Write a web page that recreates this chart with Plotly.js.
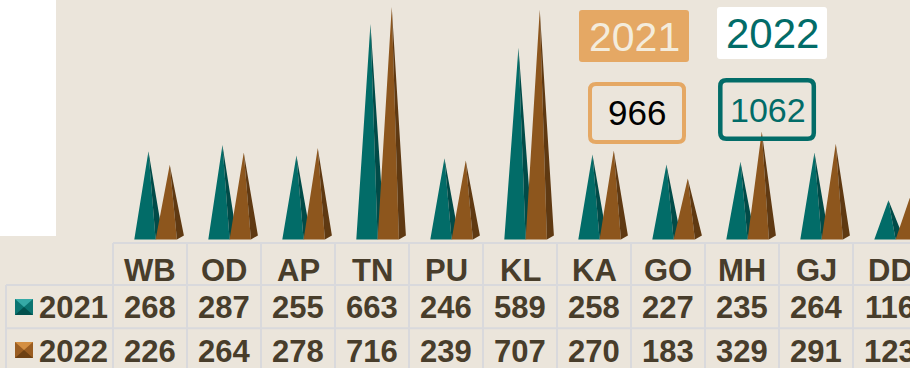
<!DOCTYPE html>
<html>
<head>
<meta charset="utf-8">
<script src="https://cdn.plot.ly/plotly-3.0.1.min.js"></script>
<style>
  html, body { margin: 0; padding: 0; background: #ebe5db; overflow: hidden; }
  #chart { width: 910px; height: 368px; }
</style>
</head>
<body>
<div id="chart"></div>
<script>
// ---- data ----
const states = ['WB', 'OD', 'AP', 'TN', 'PU', 'KL', 'KA', 'GO', 'MH', 'GJ', 'DD'];
const values2021 = [268, 287, 255, 663, 246, 589, 258, 227, 235, 264, 116];
const values2022 = [226, 264, 278, 716, 239, 707, 270, 183, 329, 291, 123];
const seriesNames = ['2021', '2022'];
const boxValues = [966, 1062];

// ---- geometry (pixels) ----
const W = 910, H = 368;
const COL = 74;        // column width
const FIRST = 150;     // centre of the first column
const BASE = 239.5;    // pixel row of value 0
const K = 0.322;       // pixels per unit
const FW = 21.3;       // pyramid front width
const DX = 7, DY = 4;  // depth offset of the pyramid side
const TEAL = '#026c68', TEAL_SIDE = '#014b48';
const BROWN = '#8d561d', BROWN_SIDE = '#5f3912';
const TEXT = '#483d2b';
const GRID = '#d9d9dc';
const FONT = 'Liberation Sans, Arial, sans-serif';

const fx = p => p / W;          // pixel -> paper x
const fy = p => 1 - p / H;      // pixel -> paper y

// pyramid faces built from the values through the axis units
function pyramids(values, offsetPx) {
  const front = { x: [], y: [] }, side = { x: [], y: [] };
  values.forEach((v, i) => {
    const x0 = i + offsetPx / COL;
    const x1 = x0 + FW / COL;
    const ax = (x0 + x1) / 2 + DX / 2 / COL;
    const ay = v + DY / 2 / K;
    front.x.push(x0, x1, ax, null); front.y.push(0, 0, ay, null);
    side.x.push(x1, x1 + DX / COL, ax, null); side.y.push(0, DY / K, ay, null);
  });
  return { front, side };
}

function faceTrace(pts, color, name) {
  return {
    type: 'scatter', mode: 'lines', x: pts.x, y: pts.y, name: name,
    fill: 'toself', fillcolor: color, line: { width: 0, color: color },
    hoverinfo: 'skip', showlegend: false
  };
}

const p21 = pyramids(values2021, -15.7);
const p22 = pyramids(values2022, -15.7 + FW);
const traces = [
  faceTrace(p21.front, TEAL, seriesNames[0]),
  faceTrace(p21.side, TEAL_SIDE, seriesNames[0]),
  faceTrace(p22.front, BROWN, seriesNames[1]),
  faceTrace(p22.side, BROWN_SIDE, seriesNames[1])
];

function roundRect(x0, y0, x1, y1, r) {
  const X0 = fx(x0), X1 = fx(x1), Y0 = fy(y0), Y1 = fy(y1);
  const rx = r / W, ry = r / H;
  return `M ${X0 + rx} ${Y0} L ${X1 - rx} ${Y0} Q ${X1} ${Y0} ${X1} ${Y0 - ry} ` +
         `L ${X1} ${Y1 + ry} Q ${X1} ${Y1} ${X1 - rx} ${Y1} L ${X0 + rx} ${Y1} ` +
         `Q ${X0} ${Y1} ${X0} ${Y1 + ry} L ${X0} ${Y0 - ry} Q ${X0} ${Y0} ${X0 + rx} ${Y0} Z`;
}
function poly(pts) {
  return 'M ' + pts.map(p => `${fx(p[0])} ${fy(p[1])}`).join(' L ') + ' Z';
}

const shapes = [];
// white panel in the upper-left corner
shapes.push({ type: 'rect', xref: 'paper', yref: 'paper', x0: 0, x1: fx(56), y0: fy(236), y1: 1,
  fillcolor: '#ffffff', line: { width: 0 }, layer: 'below' });

// data-table grid
const gl = { color: GRID, width: 2 };
for (let i = 0; i <= states.length; i++) {
  shapes.push({ type: 'line', xref: 'x', yref: 'paper', x0: i - 0.5, x1: i - 0.5, y0: fy(243), y1: 0, line: gl });
}
shapes.push({ type: 'line', xref: 'x', yref: 'paper', x0: -0.5, x1: states.length + 1, y0: fy(243), y1: fy(243), line: gl });
shapes.push({ type: 'line', xref: 'paper', yref: 'paper', x0: fx(6), x1: fx(6), y0: fy(285), y1: 0, line: gl });
[285, 328.3].forEach(r => shapes.push({ type: 'line', xref: 'paper', yref: 'paper',
  x0: fx(6), x1: 1, y0: fy(r), y1: fy(r), line: gl }));

// small pyramid icons in the row headers
function icon(top, light, mid, dark) {
  const l = 15, r = 33, b = top + 16, cx = 24, cy = top + 8;
  shapes.push({ type: 'path', xref: 'paper', yref: 'paper', path: poly([[l, top], [r, top], [r, b], [l, b]]), fillcolor: mid, line: { width: 0 } });
  shapes.push({ type: 'path', xref: 'paper', yref: 'paper', path: poly([[l, top], [r, top], [cx, cy]]), fillcolor: light, line: { width: 0 } });
  shapes.push({ type: 'path', xref: 'paper', yref: 'paper', path: poly([[l, b], [r, b], [cx, cy]]), fillcolor: dark, line: { width: 0 } });
}
icon(299, '#35a9a6', '#0b7471', '#02504d');
icon(342, '#d48f42', '#9a5d22', '#6e4114');

// legend-style boxes and value boxes
shapes.push({ type: 'path', xref: 'paper', yref: 'paper', path: roundRect(579, 10, 689, 62, 3), fillcolor: '#e5a864', line: { width: 0 } });
shapes.push({ type: 'path', xref: 'paper', yref: 'paper', path: roundRect(717, 7, 827, 59, 3), fillcolor: '#ffffff', line: { width: 0 } });
shapes.push({ type: 'path', xref: 'paper', yref: 'paper', path: roundRect(590, 84, 684, 142, 6), fillcolor: 'rgba(0,0,0,0)', line: { color: '#e5a864', width: 4 } });
shapes.push({ type: 'path', xref: 'paper', yref: 'paper', path: roundRect(720.3, 80.3, 813.8, 138.8, 6), fillcolor: 'rgba(0,0,0,0)', line: { color: TEAL, width: 4.5 } });

const annotations = [];
const cell = (text, x, y, xref) => ({
  text: String(text), xref: xref || 'x', yref: 'paper', x: x, y: fy(y),
  xanchor: 'center', yanchor: 'middle', showarrow: false,
  font: { family: FONT, size: 31, color: TEXT, weight: 'bold' }
});
states.forEach((s, i) => {
  annotations.push(cell(s, i, 270));
  annotations.push(cell(values2021[i], i, 307));
  annotations.push(cell(values2022[i], i, 351));
});
annotations.push(Object.assign(cell(seriesNames[0], fx(37), 307, 'paper'), { xanchor: 'left' }));
annotations.push(Object.assign(cell(seriesNames[1], fx(37), 351, 'paper'), { xanchor: 'left' }));

const label = (text, x, y, size, color) => ({
  text: String(text), xref: 'paper', yref: 'paper', x: fx(x), y: fy(y),
  xanchor: 'center', yanchor: 'middle', showarrow: false,
  font: { family: FONT, size: size, color: color }
});
annotations.push(label(seriesNames[0], 634, 37, 41, '#f4ecdc'));
annotations.push(label(seriesNames[1], 772, 34, 42, TEAL));
annotations.push(label(boxValues[0], 637, 112, 35, '#000000'));
annotations.push(label(boxValues[1], 768, 110, 34, TEAL));

const layout = {
  width: W, height: H,
  margin: { l: 0, r: 0, t: 0, b: 0, pad: 0 },
  paper_bgcolor: '#ebe5db', plot_bgcolor: 'rgba(0,0,0,0)',
  showlegend: false,
  xaxis: { range: [(0 - FIRST) / COL, (W - FIRST) / COL], visible: false, fixedrange: true },
  yaxis: { range: [(BASE - H) / K, BASE / K], visible: false, fixedrange: true },
  shapes: shapes,
  annotations: annotations,
  hovermode: false
};

Plotly.newPlot('chart', traces, layout, { displayModeBar: false, staticPlot: true });
</script>
</body>
</html>
